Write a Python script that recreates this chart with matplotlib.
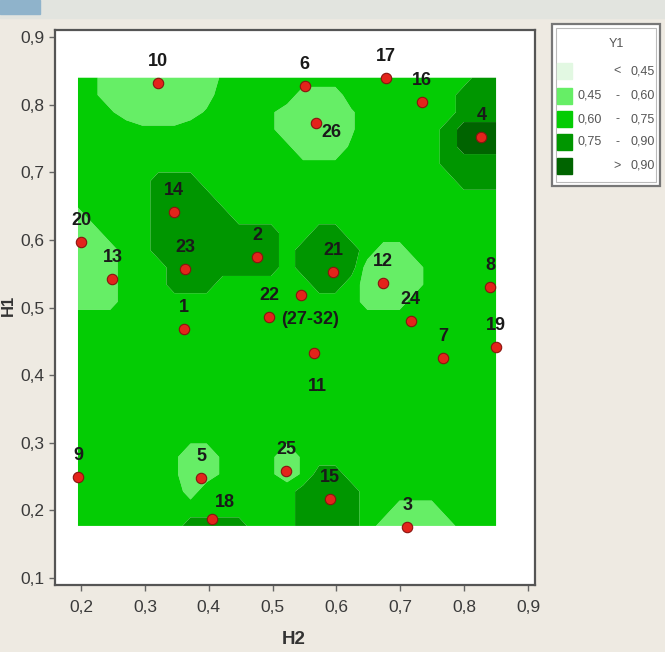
import numpy as np
import matplotlib
matplotlib.use('Agg')
import matplotlib.pyplot as plt
from matplotlib import font_manager
from matplotlib.patches import Rectangle

# design points (run label, H2, H1)
run_labels = ['1', '2', '3', '4', '5', '6', '7', '8', '9', '10', '11', '12', '13',
              '14', '15', '16', '17', '18', '19', '20', '21', '22', '23', '24',
              '25', '26', '(27-32)']
h2_vals = [0.361, 0.476, 0.711, 0.827, 0.388, 0.550, 0.767, 0.841, 0.195, 0.321,
           0.564, 0.673, 0.249, 0.346, 0.590, 0.734, 0.678, 0.405, 0.850, 0.200,
           0.595, 0.495, 0.363, 0.716, 0.521, 0.568, 0.545]
h1_vals = [0.468, 0.575, 0.176, 0.752, 0.248, 0.828, 0.425, 0.530, 0.249, 0.832,
           0.433, 0.536, 0.542, 0.641, 0.217, 0.804, 0.840, 0.187, 0.442, 0.597,
           0.553, 0.486, 0.557, 0.480, 0.258, 0.773, 0.519]

# Y1 level on a 27x27 grid (top row first)
# L/l = 0.45-0.60, M/m = 0.60-0.75, D = 0.75-0.90, X = > 0.90
y1_rows = [
    "MmLLLLLLLmMMMMMMMMMMMMMMMDD",
    "MmLLLLLLLMMMMMLLLMMMMMMMDDD",
    "MMmLLLLLmMMMmLLLLlMMMMMMDDD",
    "MMMMmmmMMMMMmLLLLlMMMMMDXXX",
    "MMMMMMMMMMMMMmLLLmMMMMMDXXX",
    "MMMMMMMMMMMMMMmmmMMMMMMDDDD",
    "MMMMMDDDMMMMMMMMMMMMMMMMDDD",
    "MMMMMDDDDMMMMMMMMMMMMMMMMMM",
    "LMMMMDDDDDMMMMMMMMMMMMMMMMM",
    "LLMMMDDDDDDDDMMDDMMMMMMMMMM",
    "LLLMMDDDDDDDDMDDDDMLLMMMMMM",
    "LLLMMMDDDDDDDMDDDDLLLLMMMMM",
    "LLLMMMDDDMMMMMMDDMLLLLMMMMM",
    "LLLMMMMMMMMMMMMMMMLLLMMMMMM",
    "MMMMMMMMMMMMMMMMMMMMMMMMMMM",
    "MMMMMMMMMMMMMMMMMMMMMMMMMMM",
    "MMMMMMMMMMMMMMMMMMMMMMMMMMM",
    "MMMMMMMMMMMMMMMMMMMMMMMMMMM",
    "MMMMMMMMMMMMMMMMMMMMMMMMMMM",
    "MMMMMMMMMMMMMMMMMMMMMMMMMMM",
    "MMMMMMMMMMMMMMMMMMMMMMMMMMM",
    "MMMMMMMmmMMMMmMMMMMMMMMMMMM",
    "MMMMMMmLLmMMmLmMMMMMMMMMMMM",
    "MMMMMMmLLmMMmLmDDMMMMMMMMMM",
    "MMMMMMMLMMMMMMDDDDMMMMMMMMM",
    "MMMMMMMMMMMMMMDDDDMMLLLMMMM",
    "MMMMMMMDDDDMMMDDDDMLLLLLMMM",
]
level_value = {'L': 0.53, 'l': 0.58, 'm': 0.62, 'M': 0.68, 'D': 0.82, 'X': 0.96}

levels = [0.0, 0.45, 0.60, 0.75, 0.90, 1.2]
legend_left = ['', '0,45', '0,60', '0,75', '']
legend_sym = ['<', '-', '-', '-', '>']
legend_right = ['0,45', '0,60', '0,75', '0,90', '0,90']
fill_colors = ['#E2F8E2', '#66EE66', '#04CC04', '#009600', '#006400']

x_ticks = [0.2, 0.3, 0.4, 0.5, 0.6, 0.7, 0.8, 0.9]
x_ticklabels = ['0,2', '0,3', '0,4', '0,5', '0,6', '0,7', '0,8', '0,9']
y_ticks = [0.1, 0.2, 0.3, 0.4, 0.5, 0.6, 0.7, 0.8, 0.9]
y_ticklabels = ['0,1', '0,2', '0,3', '0,4', '0,5', '0,6', '0,7', '0,8', '0,9']

# label offsets in points for the few labels not sitting above their point
label_offset = {'26': (11, -7), '(27-32)': (6, -18), '11': (3, -24), '18': (9, 12)}

names = {f.name for f in font_manager.fontManager.ttflist}
main_font = 'Liberation Sans Narrow' if 'Liberation Sans Narrow' in names else 'Liberation Sans'
plt.rcParams['font.family'] = [main_font, 'DejaVu Sans']

W, H = 665, 652
fig = plt.figure(figsize=(W / 100, H / 100), dpi=100)
fig.patch.set_facecolor('#EEEAE2')

# top strip of the slide
fig.patches.append(Rectangle((0, 1 - 18 / H), 1, 18 / H, transform=fig.transFigure,
                             color='#E2E4DF', zorder=0))
fig.patches.append(Rectangle((0, 1 - 14 / H), 40 / W, 14 / H, transform=fig.transFigure,
                             color='#8FB3CB', zorder=0))

ax = fig.add_axes([55 / W, 1 - 585 / H, 480 / W, 555 / H])
ax.set_facecolor('white')

Z = np.array([[level_value[c] for c in row] for row in y1_rows[::-1]])
xg = np.linspace(min(h2_vals), max(h2_vals), Z.shape[1])
yg = np.linspace(0.177, max(h1_vals), Z.shape[0])
ax.contourf(xg, yg, Z, levels=levels, colors=fill_colors, antialiased=True)

ax.plot(h2_vals, h1_vals, 'o', color='#E3241B', markeredgecolor='#8A1410',
        markersize=7.5, markeredgewidth=0.8, zorder=5, clip_on=False)
for lab, x, y in zip(run_labels, h2_vals, h1_vals):
    dx, dy = label_offset.get(lab, (0, 15.5))
    ax.annotate(lab, (x, y), xytext=(dx, dy), textcoords='offset points',
                ha='center', va='center', fontsize=13, fontweight='bold',
                color='#1A1A1A', zorder=6)

ax.set_xlim(0.159, 0.911)
ax.set_ylim(0.0896, 0.9106)
ax.set_xticks(x_ticks)
ax.set_xticklabels(x_ticklabels)
ax.set_yticks(y_ticks)
ax.set_yticklabels(y_ticklabels)
ax.tick_params(direction='out', length=4.5, width=1, color='#666666',
               labelsize=12.5, labelcolor='#3A3A3A')
ax.tick_params(axis='x', pad=6)
ax.tick_params(axis='y', pad=3)
for s in ax.spines.values():
    s.set_color('#555555')
    s.set_linewidth(1.6)

fig.text(294 / W, 1 - 640 / H, 'H2', fontsize=13.5, fontweight='bold',
         color='#333333', ha='center', va='center')
fig.text(8 / W, 1 - 305 / H, 'H1', rotation=90, fontsize=12, fontweight='bold',
         color='#333333', ha='center', va='center')

# legend box
lx0, lx1, ly0, ly1 = 552, 660, 24, 186
fig.patches.append(Rectangle((lx0 / W, 1 - ly1 / H), (lx1 - lx0) / W, (ly1 - ly0) / H,
                             transform=fig.transFigure, facecolor='white',
                             edgecolor='#777777', linewidth=1.6, zorder=1))
fig.patches.append(Rectangle(((lx0 + 4) / W, 1 - (ly1 - 4) / H), (lx1 - lx0 - 8) / W,
                             (ly1 - ly0 - 8) / H, transform=fig.transFigure,
                             facecolor='none', edgecolor='#BBBBBB', linewidth=0.8,
                             zorder=1))
fig.text(616 / W, 1 - 44 / H, 'Y1', fontsize=9, color='#555555',
         ha='center', va='center')
row_y = [71, 96, 119, 142, 166]
for i, ry in enumerate(row_y):
    fig.patches.append(Rectangle((557 / W, 1 - (ry + 8) / H), 15 / W, 16 / H,
                                 transform=fig.transFigure, color=fill_colors[i],
                                 zorder=2))
    fig.text(602 / W, 1 - ry / H, legend_left[i], fontsize=9, color='#555555',
             ha='right', va='center')
    fig.text(617 / W, 1 - ry / H, legend_sym[i], fontsize=9, color='#555555',
             ha='center', va='center')
    fig.text(643 / W, 1 - ry / H, legend_right[i], fontsize=9, color='#555555',
             ha='center', va='center')

fig.savefig('out.png', dpi=100, facecolor=fig.get_facecolor())
